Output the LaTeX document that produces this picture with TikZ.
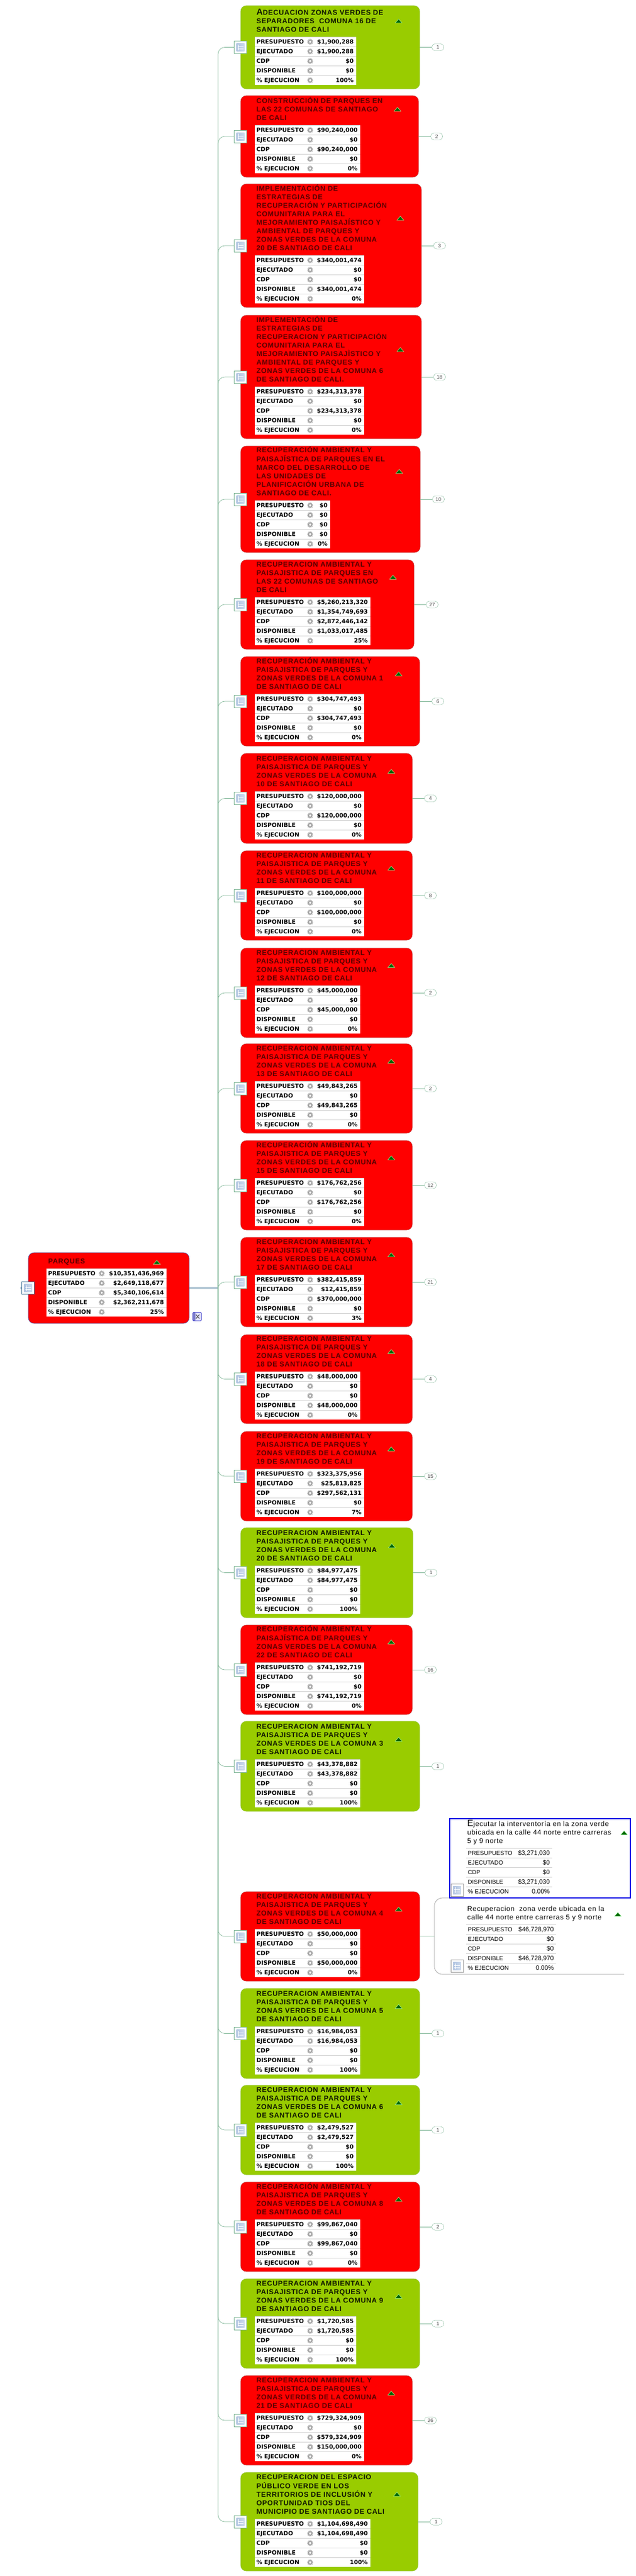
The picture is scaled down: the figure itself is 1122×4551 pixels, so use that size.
\documentclass[tikz,border=0pt]{standalone}
\usepackage{fontspec}
\setmainfont{Liberation Sans}
\newfontfamily\titulo[LetterSpace=6]{Liberation Sans}
\newfontfamily\cifras{DejaVu Sans}
\usetikzlibrary{positioning}
\definecolor{verdecaja}{HTML}{99CC00}
\definecolor{rojotxt}{HTML}{5A0000}
\definecolor{verdetxt}{HTML}{101800}
\definecolor{lineaverde}{HTML}{7DB595}
\definecolor{lineaazul}{HTML}{3F7296}
\definecolor{hojaizq}{HTML}{A9BEDD}
\definecolor{hojader}{HTML}{D3DFF0}

% caja de un proyecto: nombre, arriba, abajo, derecha, color, titulo
\newcommand{\ficha}[6]{
  \node[caja, #5, minimum width={#4-425}, minimum height={#3-#2}] (p#1) at ({(#4+425)/2},{(#2+#3)/2}) {};
  \node[encabezado, text=#5txt] (tit#1) at ([shift={(28,-96)}]p#1.south west) {\strut #6\strut};
  \path (tit#1.east -| p#1.east) ++(-37.5,-1.4) coordinate (s#1);
  \draw[sube] (s#1) ++(-6,3.5) -- ++(12,0) -- ++(-6,-7) -- cycle;
  \node[icono, draw=lineaverde] (icono#1) at (424.5,{(#2+#3)/2}) {};
  \draw[rama] (tronco) |- (icono#1.west);
}
\newcommand{\fila}[4]{
  \draw[rejilla] ([yshift={-17*(#2-1)}]t#1.north west) -- ([yshift={-17*(#2-1)}]t#1.north east);
  \node[rotulo] (l#1-#2) at ([shift={(3,{17*#2-4.8})}]t#1.north west) {#3};
  \pic at ([shift={(98,{17*#2-8.5})}]t#1.north west) {engrane};
  \node[cifra] (v#1-#2) at ([shift={(-4,{17*#2-4.8})}]t#1.north east) {#4};
}
\newcommand{\tabla}[7][25,-7]{
  \node[tablilla, minimum width=#3] (t#2) at ([shift={(#1)}]p#2.south west) {};
  \fila{#2}{1}{PRESUPUESTO}{\$#4}
  \fila{#2}{2}{EJECUTADO}{\$#5}
  \fila{#2}{3}{CDP}{\$#6}
  \fila{#2}{4}{DISPONIBLE}{\$#7}
}
\newcommand{\avance}[2]{\fila{#1}{5}{\% EJECUCION}{#2\%}}
\newcommand{\insignia}[2]{
  \node[pastilla, right=21pt of p#1] (b#1) {#2};
  \draw[enlace] (p#1) -- (b#1);
}
% fila de las cajas blancas, sin engranaje
\newcommand{\filab}[4]{
  \draw[rejilla] ([yshift={-17*(#2-1)}]t#1.north west) -- ([yshift={-17*(#2-1)}]t#1.north east);
  \node[rotulob] (l#1-#2) at ([shift={(3,{17*#2-4.8})}]t#1.north west) {#3};
  \node[cifrab] (v#1-#2) at ([shift={(-4,{17*#2-4.8})}]t#1.north east) {#4};
}

\begin{document}
\begin{tikzpicture}[x=1pt, y=-1pt,
  caja/.style = {draw, rounded corners=10pt, inner sep=0pt, line width=0.7pt},
  rojo/.style = {fill=red, draw=red!55!gray},
  verde/.style = {fill=verdecaja, draw=verdecaja!70!lineaverde},
  encabezado/.style = {font=\titulo\bfseries\fontsize{12.4}{15}\selectfont, align=left, inner sep=0pt, anchor=south west},
  sencillo/.style = {font=\titulo\fontsize{12.2}{15}\selectfont, align=left, inner sep=0pt, anchor=south west},
  sube/.style = {fill=green!40!black, draw=white!65!green, line width=0.5pt},
  icono/.style = {draw, fill=white, minimum size=22pt, inner sep=0pt, line width=0.6pt, path picture={
    \shade[left color=hojaizq, right color=hojader] ([shift={(-7,-7)}]path picture bounding box.center) rectangle ++(14,14);
    \draw[white, line width=0.5pt] ([shift={(-3,-5)}]path picture bounding box.center) -- ++(0,10);
    \draw[white, line width=0.5pt] ([shift={(-5,-1)}]path picture bounding box.center) -- ++(10,0);
    \draw[white, line width=0.5pt] ([shift={(-5,3)}]path picture bounding box.center) -- ++(10,0);}},
  rama/.style = {draw=lineaverde, line width=0.7pt, rounded corners=12pt},
  enlace/.style = {draw=lineaverde, line width=0.7pt},
  pastilla/.style = {draw=lineaverde, fill=white, rounded corners=5.5pt, minimum width=21pt, minimum height=12pt, inner sep=0pt, font=\fontsize{9}{10}\selectfont, text=black!70},
  tablilla/.style = {fill=white, minimum height=85pt, inner sep=0pt, outer sep=0pt, anchor=south west},
  tablab/.style = {minimum height=85pt, inner sep=0pt, outer sep=0pt, anchor=north west},
  rejilla/.style = {draw=black!18, line width=0.7pt},
  rotulo/.style = {inner sep=0pt, anchor=base west, font=\cifras\bfseries\fontsize{10.2}{12}\selectfont},
  cifra/.style = {inner sep=0pt, anchor=base east, font=\cifras\bfseries\fontsize{10.2}{12}\selectfont},
  rotulob/.style = {inner sep=0pt, anchor=base west, font=\fontsize{10.4}{12}\selectfont},
  cifrab/.style = {inner sep=0pt, anchor=base east, font=\fontsize{11.2}{12}\selectfont},
  engrane/.pic = {
    \draw[black!35, line width=1.5pt, dash pattern=on 1.3pt off 1.25pt] (0,0) circle (4.6);
    \draw[black!35, line width=2pt] (0,0) circle (3);},
  excel/.style = {draw=blue!55!gray, fill=blue!12, rounded corners=1.5pt, minimum size=15pt, inner sep=0pt, line width=0.8pt, path picture={
    \fill[blue!45!gray!70] (path picture bounding box.north west) rectangle ([xshift=-3pt]path picture bounding box.south);
    \draw[black!65, line width=1.2pt] ([shift={(-2,-3.5)}]path picture bounding box.center) -- ++(6,7);
    \draw[black!65, line width=1.2pt] ([shift={(-2,3.5)}]path picture bounding box.center) -- ++(6,-7);}}]
  \path[fill=white, use as bounding box] (0,0) rectangle (1122,4551);
  \coordinate (tronco) at (385,2275.5);

  \node[caja, rojo, draw=blue!30!gray, minimum width=284pt, minimum height=125pt] (p0) at (192,2275.5) {};
  \node[encabezado, text=rojotxt, anchor=west] (tit0) at (85,2229) {PARQUES};
  \draw[sube] (277,2230) ++(-6,3.5) -- ++(12,0) -- ++(-6,-7) -- cycle;
  \tabla[32,-12]{0}{212}{10,351,436,969}{2,649,118,677}{5,340,106,614}{2,362,211,678}
  \avance{0}{25}
  \node[icono, draw=lineaazul] (icono0) at (49.5,2275.5) {};
  \coordinate (raiz) at (36,2275.5);
  \draw[draw=lineaazul, line width=0.7pt] (raiz) -- (icono0.west);
  \draw[draw=lineaazul, line width=0.7pt] (p0.east) -- (tronco);
  \node[excel] (xls) at (348,2326) {};

  \ficha{1}{10}{157}{741}{verde}{{\fontsize{15.5}{15}\selectfont A}DECUACION ZONAS VERDES DE\\SEPARADORES\ \ COMUNA 16 DE\\SANTIAGO DE CALI}
  \tabla{1}{179}{1,900,288}{1,900,288}{0}{0}
  \avance{1}{100}
  \insignia{1}{1}

  \ficha{2}{169}{313}{739}{rojo}{CONSTRUCCIÓN DE PARQUES EN\\LAS 22 COMUNAS DE SANTIAGO\\DE CALI}
  \tabla{2}{186}{90,240,000}{0}{90,240,000}{0}
  \avance{2}{0}
  \insignia{2}{2}

  \ficha{3}{325}{543}{744}{rojo}{IMPLEMENTACIÓN DE\\ESTRATEGIAS DE\\RECUPERACIÓN Y PARTICIPACIÓN\\COMUNITARIA PARA EL\\MEJORAMIENTO PAISAJÍSTICO Y\\AMBIENTAL DE PARQUES Y\\ZONAS VERDES DE LA COMUNA\\20 DE SANTIAGO DE CALI}
  \tabla{3}{193}{340,001,474}{0}{0}{340,001,474}
  \avance{3}{0}
  \insignia{3}{3}

  \ficha{4}{557}{775}{744}{rojo}{IMPLEMENTACIÓN DE\\ESTRATEGIAS DE\\RECUPERACION Y PARTICIPACIÓN\\COMUNITARIA PARA EL\\MEJORAMIENTO PAISAJÌSTICO Y\\AMBIENTAL DE PARQUES Y\\ZONAS VERDES DE LA COMUNA 6\\DE SANTIAGO DE CALI.}
  \tabla{4}{193}{234,313,378}{0}{234,313,378}{0}
  \avance{4}{0}
  \insignia{4}{18}

  \ficha{5}{788}{976}{742}{rojo}{RECUPERACIÓN AMBIENTAL Y\\PAISAJÍSTICA DE PARQUES EN EL\\MARCO DEL DESARROLLO DE\\LAS UNIDADES DE\\PLANIFICACIÓN URBANA DE\\SANTIAGO DE CALI.}
  \tabla{5}{133}{0}{0}{0}{0}
  \avance{5}{0}
  \insignia{5}{10}

  \ficha{6}{989}{1147}{731}{rojo}{RECUPERACION AMBIENTAL Y\\PAISAJISTICA DE PARQUES EN\\LAS 22 COMUNAS DE SANTIAGO\\DE CALI}
  \tabla{6}{204}{5,260,213,320}{1,354,749,693}{2,872,446,142}{1,033,017,485}
  \avance{6}{25}
  \insignia{6}{27}

  \ficha{7}{1160}{1318}{741}{rojo}{RECUPERACIÓN AMBIENTAL Y\\PAISAJISTICA DE PARQUES Y\\ZONAS VERDES DE LA COMUNA 1\\DE SANTIAGO DE CALI}
  \tabla{7}{193}{304,747,493}{0}{304,747,493}{0}
  \avance{7}{0}
  \insignia{7}{6}

  \ficha{8}{1331}{1490}{728}{rojo}{RECUPERACION AMBIENTAL Y\\PAISAJISTICA DE PARQUES Y\\ZONAS VERDES DE LA COMUNA\\10 DE SANTIAGO DE CALI}
  \tabla{8}{193}{120,000,000}{0}{120,000,000}{0}
  \avance{8}{0}
  \insignia{8}{4}

  \ficha{9}{1503}{1661}{728}{rojo}{RECUPERACION AMBIENTAL Y\\PAISAJISTICA DE PARQUES Y\\ZONAS VERDES DE LA COMUNA\\11 DE SANTIAGO DE CALI}
  \tabla{9}{193}{100,000,000}{0}{100,000,000}{0}
  \avance{9}{0}
  \insignia{9}{8}

  \ficha{10}{1675}{1833}{728}{rojo}{RECUPERACION AMBIENTAL Y\\PAISAJISTICA DE PARQUES Y\\ZONAS VERDES DE LA COMUNA\\12 DE SANTIAGO DE CALI}
  \tabla{10}{186}{45,000,000}{0}{45,000,000}{0}
  \avance{10}{0}
  \insignia{10}{2}

  \ficha{11}{1844}{2002}{728}{rojo}{RECUPERACION AMBIENTAL Y\\PAISAJISTICA DE PARQUES Y\\ZONAS VERDES DE LA COMUNA\\13 DE SANTIAGO DE CALI}
  \tabla{11}{186}{49,843,265}{0}{49,843,265}{0}
  \avance{11}{0}
  \insignia{11}{2}

  \ficha{12}{2015}{2173}{728}{rojo}{RECUPERACIÓN AMBIENTAL Y\\PAISAJISTICA DE PARQUES Y\\ZONAS VERDES DE LA COMUNA\\15 DE SANTIAGO DE CALI}
  \tabla{12}{193}{176,762,256}{0}{176,762,256}{0}
  \avance{12}{0}
  \insignia{12}{12}

  \ficha{13}{2186}{2344}{728}{rojo}{RECUPERACION AMBIENTAL Y\\PAISAJISTICA DE PARQUES Y\\ZONAS VERDES DE LA COMUNA\\17 DE SANTIAGO DE CALI}
  \tabla{13}{193}{382,415,859}{12,415,859}{370,000,000}{0}
  \avance{13}{3}
  \insignia{13}{21}

  \ficha{14}{2358}{2515}{728}{rojo}{RECUPERACION AMBIENTAL Y\\PAISAJISTICA DE PARQUES Y\\ZONAS VERDES DE LA COMUNA\\18 DE SANTIAGO DE CALI}
  \tabla{14}{186}{48,000,000}{0}{0}{48,000,000}
  \avance{14}{0}
  \insignia{14}{4}

  \ficha{15}{2529}{2687}{728}{rojo}{RECUPERACION AMBIENTAL Y\\PAISAJISTICA DE PARQUES Y\\ZONAS VERDES DE LA COMUNA\\19 DE SANTIAGO DE CALI}
  \tabla{15}{193}{323,375,956}{25,813,825}{297,562,131}{0}
  \avance{15}{7}
  \insignia{15}{15}

  \ficha{16}{2699}{2858}{729}{verde}{RECUPERACION AMBIENTAL Y\\PAISAJISTICA DE PARQUES Y\\ZONAS VERDES DE LA COMUNA\\20 DE SANTIAGO DE CALI}
  \tabla{16}{186}{84,977,475}{84,977,475}{0}{0}
  \avance{16}{100}
  \insignia{16}{1}

  \ficha{17}{2871}{3029}{728}{rojo}{RECUPERACIÓN AMBIENTAL Y\\PAISAJÍSTICA DE PARQUES Y\\ZONAS VERDES DE LA COMUNA\\22 DE SANTIAGO DE CALI}
  \tabla{17}{193}{741,192,719}{0}{0}{741,192,719}
  \avance{17}{0}
  \insignia{17}{16}

  \ficha{18}{3041}{3200}{741}{verde}{RECUPERACION AMBIENTAL Y\\PAISAJISTICA DE PARQUES Y\\ZONAS VERDES DE LA COMUNA 3\\DE SANTIAGO DE CALI}
  \tabla{18}{186}{43,378,882}{43,378,882}{0}{0}
  \avance{18}{100}
  \insignia{18}{1}

  \ficha{19}{3342}{3500}{741}{rojo}{RECUPERACION AMBIENTAL Y\\PAISAJISTICA DE PARQUES Y\\ZONAS VERDES DE LA COMUNA 4\\DE SANTIAGO DE CALI}
  \tabla{19}{186}{50,000,000}{0}{0}{50,000,000}
  \avance{19}{0}

  \ficha{20}{3513}{3672}{741}{verde}{RECUPERACION AMBIENTAL Y\\PAISAJISTICA DE PARQUES Y\\ZONAS VERDES DE LA COMUNA 5\\DE SANTIAGO DE CALI}
  \tabla{20}{186}{16,984,053}{16,984,053}{0}{0}
  \avance{20}{100}
  \insignia{20}{1}

  \ficha{21}{3684}{3842}{741}{verde}{RECUPERACION AMBIENTAL Y\\PAISAJISTICA DE PARQUES Y\\ZONAS VERDES DE LA COMUNA 6\\DE SANTIAGO DE CALI}
  \tabla{21}{179}{2,479,527}{2,479,527}{0}{0}
  \avance{21}{100}
  \insignia{21}{1}

  \ficha{22}{3855}{4013}{741}{rojo}{RECUPERACIÓN AMBIENTAL Y\\PAISAJISTICA DE PARQUES Y\\ZONAS VERDES DE LA COMUNA 8\\DE SANTIAGO DE CALI}
  \tabla{22}{186}{99,867,040}{0}{99,867,040}{0}
  \avance{22}{0}
  \insignia{22}{2}

  \ficha{23}{4026}{4184}{741}{verde}{RECUPERACION AMBIENTAL Y\\PAISAJISTICA DE PARQUES Y\\ZONAS VERDES DE LA COMUNA 9\\DE SANTIAGO DE CALI}
  \tabla{23}{179}{1,720,585}{1,720,585}{0}{0}
  \avance{23}{100}
  \insignia{23}{1}

  \ficha{24}{4197}{4355}{728}{rojo}{RECUPERACION AMBIENTAL Y\\PASIAJISTICA DE PARQUES Y\\ZONAS VERDES DE LA COMUNA\\21 DE SANTIAGO DE CALI}
  \tabla{24}{193}{729,324,909}{0}{579,324,909}{150,000,000}
  \avance{24}{0}
  \insignia{24}{26}

  \ficha{25}{4368}{4542}{738}{verde}{RECUPERACION DEL ESPACIO\\PÚBLICO VERDE EN LOS\\TERRITORIOS DE INCLUSIÓN Y\\OPORTUNIDAD TIOS DEL\\MUNICIPIO DE SANTIAGO DE CALI}
  \tabla{25}{204}{1,104,698,490}{1,104,698,490}{0}{0}
  \avance{25}{100}
  \insignia{25}{1}

  \node[inner sep=0pt, outer sep=0pt, minimum width=335pt, minimum height=135pt] (w2) at (934.5,3420.5) {};
  \node[draw=blue!90!black, line width=1.7pt, inner sep=0pt, outer sep=0pt, minimum width=319pt, minimum height=140pt] (w1) at (953.5,3283) {};
  \draw[black!40, line width=0.7pt, rounded corners=14pt] (w1.south west) -- (w2.north west) -- (w2.south west) -- (w2.south east);
  \draw[enlace] (p19) -- (w2);

  \node[sencillo] (tit26) at (825,3261) {\strut{\fontsize{16}{15}\selectfont E}jecutar la interventoría en la zona verde\\ubicada en la calle 44 norte entre carreras\\5 y 9 norte\strut};
  \draw[sube] (1102,3238) ++(-6,3.5) -- ++(12,0) -- ++(-6,-7) -- cycle;
  \node[tablab, minimum width=152pt] (t26) at (823,3265) {};
  \filab{26}{1}{PRESUPUESTO}{\$3,271,030}
  \filab{26}{2}{EJECUTADO}{\$0}
  \filab{26}{3}{CDP}{\$0}
  \filab{26}{4}{DISPONIBLE}{\$3,271,030}
  \filab{26}{5}{\% EJECUCION}{0.00\%}
  \node[icono, draw=black!40] (icono26) at (807,3339) {};

  \node[sencillo] (tit27) at (825,3396) {\strut Recuperacion\ \ zona verde ubicada en la\\calle 44 norte entre carreras 5 y 9 norte\strut};
  \draw[sube] (1091,3382) ++(-6,3.5) -- ++(12,0) -- ++(-6,-7) -- cycle;
  \node[tablab, minimum width=159pt] (t27) at (823,3400) {};
  \filab{27}{1}{PRESUPUESTO}{\$46,728,970}
  \filab{27}{2}{EJECUTADO}{\$0}
  \filab{27}{3}{CDP}{\$0}
  \filab{27}{4}{DISPONIBLE}{\$46,728,970}
  \filab{27}{5}{\% EJECUCION}{0.00\%}
  \node[icono, draw=black!40] (icono27) at (807,3473.5) {};
\end{tikzpicture}
\end{document}
